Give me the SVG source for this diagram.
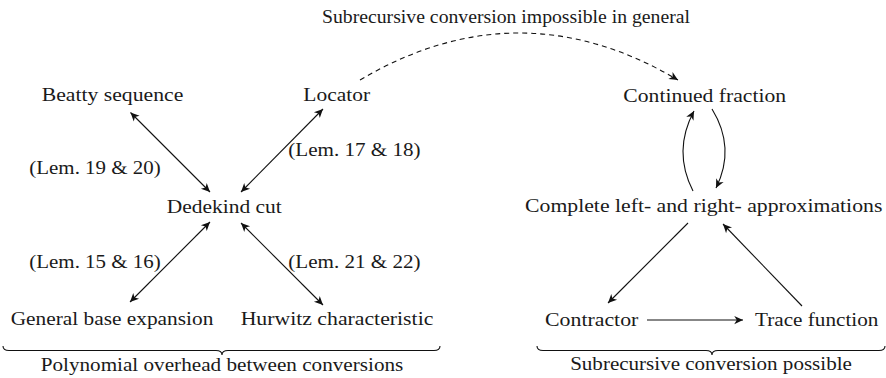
<svg xmlns="http://www.w3.org/2000/svg" width="886" height="378" viewBox="0 0 886 378">
<style>
text{font-family:'Liberation Serif','DejaVu Serif','Noto Serif','Nimbus Roman','Nimbus Roman No9 L','FreeSerif','Times New Roman',Times,serif;font-size:19px;fill:#1a1a1a;text-anchor:middle}
.c{fill:none;stroke:#111;stroke-width:1.1}
.d{stroke-dasharray:5 4}
.b{fill:none;stroke:#111;stroke-width:1.1}
</style>
<defs>
<marker id="ah" markerUnits="userSpaceOnUse" markerWidth="12" markerHeight="10" viewBox="-8 -4 9 8" refX="0" refY="0" orient="auto-start-reverse">
<path d="M-7,-3.3 L0,0 L-7,3.3 L-5,0 z" fill="#111"/>
</marker>
</defs>
<g id="connectors">
<line class="c" x1="130.5" y1="112.5" x2="210" y2="192" marker-start="url(#ah)" marker-end="url(#ah)"/>
<line class="c" x1="323" y1="109" x2="241" y2="192" marker-start="url(#ah)" marker-end="url(#ah)"/>
<line class="c" x1="210" y1="222" x2="130" y2="302" marker-start="url(#ah)" marker-end="url(#ah)"/>
<line class="c" x1="241" y1="223" x2="323" y2="305" marker-start="url(#ah)" marker-end="url(#ah)"/>
<path class="c d" d="M360,80 Q519,-14 678,80" marker-end="url(#ah)"/>
<path class="c" d="M693,191 Q672.5,151 694,111" marker-end="url(#ah)"/>
<path class="c" d="M712,109 Q736,148 716,188" marker-end="url(#ah)"/>
<line class="c" x1="688" y1="223" x2="608" y2="303" marker-end="url(#ah)"/>
<line class="c" x1="802" y1="306" x2="723" y2="224" marker-end="url(#ah)"/>
<line class="c" x1="647" y1="320" x2="743" y2="320" marker-end="url(#ah)"/>
</g>
<g id="label-impossible"><text x="506" y="23" textLength="368" lengthAdjust="spacingAndGlyphs">Subrecursive conversion impossible in general</text></g>
<g id="beatty"><text x="112.5" y="101" textLength="141.6" lengthAdjust="spacingAndGlyphs">Beatty sequence</text></g>
<g id="locator"><text x="336.7" y="101" textLength="66.7" lengthAdjust="spacingAndGlyphs">Locator</text></g>
<g id="lem19"><text x="95" y="174" textLength="131.3" lengthAdjust="spacingAndGlyphs">(Lem. 19 &amp; 20)</text></g>
<g id="lem17"><text x="354.5" y="156" textLength="132.3" lengthAdjust="spacingAndGlyphs">(Lem. 17 &amp; 18)</text></g>
<g id="dedekind"><text x="224.2" y="213" textLength="115" lengthAdjust="spacingAndGlyphs">Dedekind cut</text></g>
<g id="lem15"><text x="95" y="268" textLength="131.3" lengthAdjust="spacingAndGlyphs">(Lem. 15 &amp; 16)</text></g>
<g id="lem21"><text x="354.5" y="268" textLength="132.3" lengthAdjust="spacingAndGlyphs">(Lem. 21 &amp; 22)</text></g>
<g id="general"><text x="112" y="325" textLength="202.7" lengthAdjust="spacingAndGlyphs">General base expansion</text></g>
<g id="hurwitz"><text x="337" y="325" textLength="192.7" lengthAdjust="spacingAndGlyphs">Hurwitz characteristic</text></g>
<g id="brace-left">
<path class="b" d="M3,346 Q3,350.5 9,350.5 L216,350.5 Q222,350.5 222,355 Q222,350.5 228,350.5 L434,350.5 Q440,350.5 440,346"/>
<text x="222" y="371" textLength="362.7" lengthAdjust="spacingAndGlyphs">Polynomial overhead between conversions</text>
</g>
<g id="continued"><text x="704.7" y="102" textLength="162.7" lengthAdjust="spacingAndGlyphs">Continued fraction</text></g>
<g id="complete"><text x="703.7" y="212" textLength="357.3" lengthAdjust="spacingAndGlyphs">Complete left- and right- approximations</text></g>
<g id="contractor"><text x="591.7" y="326" textLength="93.3" lengthAdjust="spacingAndGlyphs">Contractor</text></g>
<g id="trace"><text x="816.7" y="326" textLength="123.3" lengthAdjust="spacingAndGlyphs">Trace function</text></g>
<g id="brace-right">
<path class="b" d="M537,346 Q537,350.5 543,350.5 L706,350.5 Q712,350.5 712,355 Q712,350.5 718,350.5 L879,350.5 Q885,350.5 885,346"/>
<text x="711" y="370" textLength="281.7" lengthAdjust="spacingAndGlyphs">Subrecursive conversion possible</text>
</g>
</svg>
